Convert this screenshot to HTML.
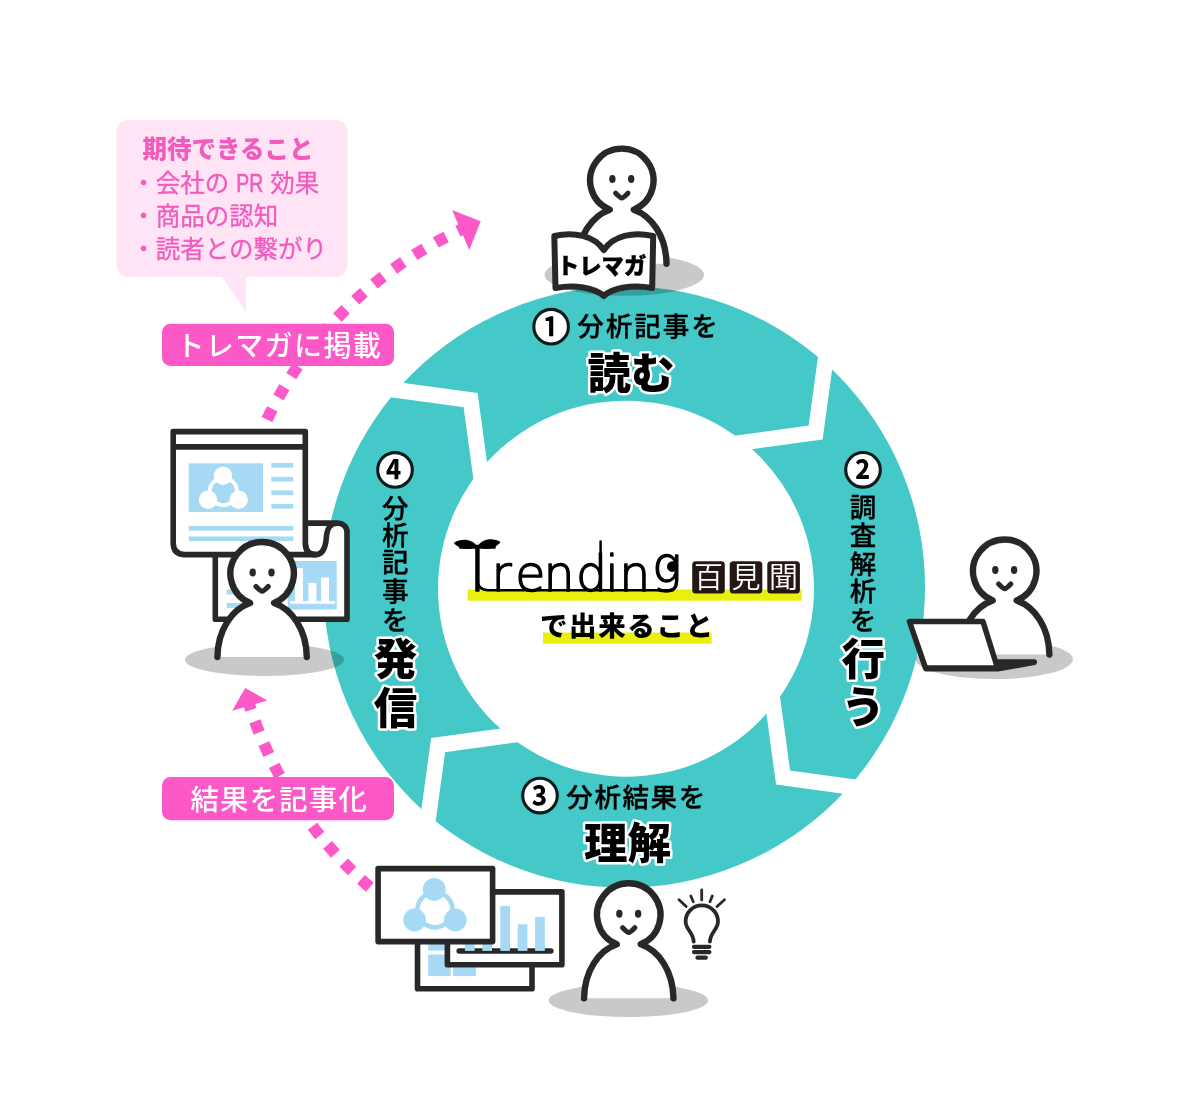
<!DOCTYPE html>
<html lang="ja">
<head>
<meta charset="utf-8">
<title>Trending 百見聞で出来ること</title>
<style>
html,body{margin:0;padding:0;background:#fff;}
body{width:1200px;height:1109px;overflow:hidden;}
svg{display:block;}
text{font-family:"Liberation Sans","Noto Sans CJK JP",sans-serif;}
.reg{font-weight:500;fill:#000;stroke:#000;stroke-width:0.35px;}
.hv{font-weight:900;fill:#000;stroke:#fff;stroke-width:5px;stroke-linejoin:round;paint-order:stroke fill;}
.num{font-weight:700;fill:#000;}
.ill{fill:#fff;stroke:#282828;stroke-linecap:round;}
.ln{fill:none;stroke:#282828;stroke-linecap:round;stroke-linejoin:round;}
.sh{fill:#C9C9C9;mix-blend-mode:multiply;}
</style>
</head>
<body>
<svg width="1200" height="1109" viewBox="0 0 1200 1109">

<rect width="1200" height="1109" fill="#fff"/>

<!-- ring -->
<circle cx="624.3" cy="587.0" r="300.7" fill="#45C8C8"/>
<circle cx="626.0" cy="588.7" r="188.0" fill="#fff"/>
<polyline points="371.5,386.6 470.6,400.1 484.1,499.2" fill="none" stroke="#fff" stroke-width="15.8" stroke-linejoin="miter" stroke-miterlimit="10"/>
<polyline points="829.1,333.5 815.6,432.6 716.5,446.1" fill="none" stroke="#fff" stroke-width="15.8" stroke-linejoin="miter" stroke-miterlimit="10"/>
<polyline points="882.2,791.1 783.1,777.6 769.6,678.5" fill="none" stroke="#fff" stroke-width="15.8" stroke-linejoin="miter" stroke-miterlimit="10"/>
<polyline points="424.6,844.2 438.1,745.1 537.2,731.6" fill="none" stroke="#fff" stroke-width="15.8" stroke-linejoin="miter" stroke-miterlimit="10"/>
<!-- shadows -->
<ellipse class="sh" cx="624.3" cy="274.8" rx="79.7" ry="21"/>
<ellipse class="sh" cx="994.4" cy="659.3" rx="78.5" ry="19.8"/>
<ellipse class="sh" cx="628.4" cy="1000.4" rx="79.7" ry="16.6"/>
<ellipse class="sh" cx="264.5" cy="659.7" rx="79.6" ry="16.2"/>
<!-- bubble -->
<path d="M128.5,120 H335.5 A12,12 0 0 1 347.5,132 V265 A12,12 0 0 1 335.5,277 H246 V312 L222,277 H128.5 A12,12 0 0 1 116.5,265 V132 A12,12 0 0 1 128.5,120 Z" fill="#FFE4F5"/>
<text x="142.5" y="158" font-size="24.5" font-weight="900" fill="#F25ABE">期待できること</text>
<text y="191.8" font-size="24.5" font-weight="400" fill="#F25ABE" stroke="#F25ABE" stroke-width="0.3"><tspan x="131.2">・会社の</tspan> <tspan x="236.3" font-size="25.8" stroke-width="0.6" textLength="27" lengthAdjust="spacingAndGlyphs">PR</tspan> <tspan x="270.3">効果</tspan></text>
<text x="131.2" y="225" font-size="24.5" font-weight="400" fill="#F25ABE" stroke="#F25ABE" stroke-width="0.3">・商品の認知</text>
<text x="131.2" y="258" font-size="24.5" font-weight="400" fill="#F25ABE" stroke="#F25ABE" stroke-width="0.3">・読者との繋がり</text>
<!-- arrows -->
<path d="M264.3,425.4 C304.1,337.8 375.9,268.2 463.1,228.8" fill="none" stroke="#FC58C8" stroke-width="11.8" stroke-dasharray="11.8 13.05" stroke-dashoffset="18.33"/>
<polygon points="452,210 480.7,221.3 469.3,250" fill="#FC58C8"/>
<path d="M374.5,891.2 C316.0,842.6 271.7,776.1 249.1,704.3" fill="none" stroke="#FC58C8" stroke-width="11.8" stroke-dasharray="11.8 12.21" stroke-dashoffset="17.9"/>
<polygon points="245.1,688 232.3,710.7 267.3,700.4" fill="#FC58C8"/>
<!-- labels -->
<rect x="162" y="323.7" width="232" height="42.3" rx="8.5" fill="#FC58C8"/>
<text x="279.3" y="355.5" font-size="28" font-weight="500" fill="#fff" text-anchor="middle" letter-spacing="1.4">トレマガに掲載</text>
<rect x="162" y="776.9" width="232" height="43.3" rx="8.5" fill="#FC58C8"/>
<text x="279.3" y="809.8" font-size="28.3" font-weight="500" fill="#fff" text-anchor="middle" letter-spacing="1.3">結果を記事化</text>
<!-- left pages -->
<path class="ill" stroke-linejoin="round" stroke-width="5.6" d="M215.3,552 V619.2 H347 V532 A8.7,8.7 0 0 0 338.3,523.3 H305.3"/>
<rect x="287.7" y="561" width="49" height="48.5" fill="#A5D9F4"/>
<rect x="226.7" y="589.5" width="40" height="5" fill="#A5D9F4"/>
<rect x="226.7" y="603" width="40" height="5" fill="#A5D9F4"/>
<g fill="#fff"><rect x="295" y="568" width="8" height="33"/><rect x="308.5" y="583" width="8" height="18"/><rect x="321" y="577.5" width="8" height="24"/><rect x="290" y="601" width="45" height="2.8"/></g>
<path class="ill" stroke-linejoin="round" stroke-width="5.6" d="M305.3,523.3 V543 Q305.3,554.6 315.5,554.6 C322.5,554.6 325.5,548 326.3,538 C327,528 330,523.3 337.5,523.3 Z"/>
<path class="ill" stroke-linejoin="round" stroke-width="5.6" d="M173.2,431.6 H305.3 V543 Q305.3,554.6 315.5,554.6 H185 Q173.2,554.6 173.2,542.5 Z"/>
<path fill="none" stroke="#282828" stroke-width="5.6" d="M174,446.9 H304.5"/>
<rect x="188.7" y="463.3" width="74.3" height="48.7" fill="#A5D9F4"/>
<g fill="#fff"><circle cx="223" cy="475.8" r="9.2"/><circle cx="208" cy="499.7" r="9.2"/><circle cx="238.7" cy="499.7" r="9.2"/><circle cx="223.3" cy="491.5" r="13.6" fill="none" stroke="#fff" stroke-width="3.8"/></g>
<rect x="271.3" y="462.95" width="22" height="4.7" fill="#A5D9F4"/>
<rect x="271.3" y="476.85" width="22" height="4.7" fill="#A5D9F4"/>
<rect x="271.3" y="490.45" width="22" height="4.7" fill="#A5D9F4"/>
<rect x="271.3" y="503.95" width="22" height="4.7" fill="#A5D9F4"/>
<rect x="188.7" y="525.95" width="104.6" height="4.7" fill="#A5D9F4"/>
<rect x="188.7" y="536.45" width="104.6" height="4.7" fill="#A5D9F4"/>
<!-- bottom monitors -->
<rect class="ill" stroke-linejoin="round" stroke-width="5.6" x="417.5" y="930" width="114.5" height="58.7"/>
<rect x="428.2" y="944" width="22.5" height="6.5" fill="#A5D9F4"/><rect x="428.2" y="954.5" width="22.5" height="21.6" fill="#A5D9F4"/><rect x="453.1" y="967.3" width="22.8" height="8.8" fill="#A5D9F4"/>
<rect class="ill" stroke-linejoin="round" stroke-width="5.6" x="447.4" y="891.9" width="114.5" height="72.9"/>
<path class="ln" stroke-width="5.6" d="M459.2,951 H550.8"/>
<rect x="464.9" y="920" width="9.7" height="30.9" fill="#A5D9F4"/>
<rect x="482.3" y="930" width="9.7" height="20.9" fill="#A5D9F4"/>
<rect x="500.3" y="905.9" width="9.7" height="45.0" fill="#A5D9F4"/>
<rect x="517.7" y="924.3" width="9.7" height="26.6" fill="#A5D9F4"/>
<rect x="535.1" y="916.9" width="9.7" height="34.0" fill="#A5D9F4"/>
<rect class="ill" stroke-linejoin="round" stroke-width="5.6" x="378.1" y="868.6" width="114.5" height="73"/>
<g fill="#A5D9F4"><circle cx="435" cy="909.8" r="17.6" fill="none" stroke="#A5D9F4" stroke-width="4.6"/><circle cx="434.3" cy="889.4" r="11.4"/><circle cx="414.6" cy="920" r="11.4"/><circle cx="455.3" cy="920" r="11.4"/></g>
<!-- persons -->
<g transform="translate(621.8 180.4)">
<path class="ill" stroke-linejoin="round" stroke-width="6.4" d="M-44.7,83.3 C-44.3,56 -30,35.5 -12,29.3 A31.7,31.7 0 1 1 12,29.3 C30,35.5 44.3,56 44.7,83.3"/>
<ellipse cx="-9.4" cy="-1.3" rx="3.2" ry="4" fill="#282828"/>
<ellipse cx="9.4" cy="-1.3" rx="3.2" ry="4" fill="#282828"/>
<path class="ln" stroke-width="5.2" d="M-6.1,12.8 C-3,16 -1.2,17.5 0,17.5 C1.2,17.5 3,16 6.1,12.8"/>
</g>
<g transform="translate(1004.7 571.2)">
<path class="ill" stroke-linejoin="round" stroke-width="6.4" d="M-44.7,83.3 C-44.3,56 -30,35.5 -12,29.3 A31.7,31.7 0 1 1 12,29.3 C30,35.5 44.3,56 44.7,83.3"/>
<ellipse cx="-9.4" cy="-1.3" rx="3.2" ry="4" fill="#282828"/>
<ellipse cx="9.4" cy="-1.3" rx="3.2" ry="4" fill="#282828"/>
<path class="ln" stroke-width="5.2" d="M-6.1,12.8 C-3,16 -1.2,17.5 0,17.5 C1.2,17.5 3,16 6.1,12.8"/>
</g>
<g transform="translate(628.75 915)">
<path class="ill" stroke-linejoin="round" stroke-width="6.4" d="M-44.7,83.3 C-44.3,56 -30,35.5 -12,29.3 A31.7,31.7 0 1 1 12,29.3 C30,35.5 44.3,56 44.7,83.3"/>
<ellipse cx="-9.4" cy="-1.3" rx="3.2" ry="4" fill="#282828"/>
<ellipse cx="9.4" cy="-1.3" rx="3.2" ry="4" fill="#282828"/>
<path class="ln" stroke-width="5.2" d="M-6.1,12.8 C-3,16 -1.2,17.5 0,17.5 C1.2,17.5 3,16 6.1,12.8"/>
</g>
<g transform="translate(262.1 573.7)">
<path class="ill" stroke-linejoin="round" stroke-width="6.4" d="M-44.7,83.3 C-44.3,56 -30,35.5 -12,29.3 A31.7,31.7 0 1 1 12,29.3 C30,35.5 44.3,56 44.7,83.3"/>
<ellipse cx="-9.4" cy="-1.3" rx="3.2" ry="4" fill="#282828"/>
<ellipse cx="9.4" cy="-1.3" rx="3.2" ry="4" fill="#282828"/>
<path class="ln" stroke-width="5.2" d="M-6.1,12.8 C-3,16 -1.2,17.5 0,17.5 C1.2,17.5 3,16 6.1,12.8"/>
</g>
<!-- book -->
<path class="ill" stroke-linejoin="round" stroke-width="6" d="M554.3,236 C574,231.5 594,235.5 603.8,250 C613.6,235.5 633,231.5 653.2,236 L652.2,288 C632,284.5 613,287.5 603.8,296 C594,287.5 575,284.5 555.5,288 Z"/>
<text x="601.6" y="274.3" font-size="22.3" font-weight="900" fill="#000" stroke="#000" stroke-width="0.4" text-anchor="middle">トレマガ</text>
<!-- laptop -->
<path d="M926,669 H998 L1034.5,662.6 V661.8 H994 Z" fill="#282828" stroke="#282828" stroke-width="5" stroke-linejoin="round"/>
<path class="ill" stroke-width="5.5" stroke-linejoin="round" d="M909.5,621.6 H983 L997.5,668 H925.5 Z"/>
<!-- bulb -->
<path class="ln" stroke-width="3.8" d="M693.7,941.6 C693.2,932 685.6,929.5 685.6,921.5 A16.2,16.2 0 0 1 718,921.5 C718,929.5 710.4,932 709.9,941.6"/>
<path class="ln" stroke-width="4.2" d="M694,946.8 H709.4 M694,952.1 H709.4 M697.5,957.7 H705.8"/>
<path class="ln" stroke-width="2.8" d="M701.7,890 V900 M690.8,896 L693.3,901.7 M712.3,896 L710,901.7 M679,899.7 L686.2,906.5 M724.5,899.7 L717,906.5"/>
<!-- ring text -->
<defs><clipPath id="numclip"><ellipse cx="-0.8" cy="0" rx="11.8" ry="13.4"/></clipPath></defs>
<circle cx="551.1" cy="326.7" r="17.3" fill="#fff" stroke="#0d1a1a" stroke-width="3.1"/>
<g transform="translate(551.1 326.7)" clip-path="url(#numclip)"><text class="num" transform="scale(0.87 1)" x="-0.9" y="14.2" font-size="37.2" text-anchor="middle">①</text></g>
<text class="reg" x="577.3" y="336.3" font-size="26.5" letter-spacing="2">分析記事を</text>
<text class="hv" x="631" y="388.5" font-size="43.5" text-anchor="middle">読む</text>
<circle cx="863.0" cy="469.8" r="17.3" fill="#fff" stroke="#0d1a1a" stroke-width="3.1"/>
<g transform="translate(863.0 469.8)" clip-path="url(#numclip)"><text class="num" transform="scale(0.87 1)" x="-0.9" y="14.2" font-size="37.2" text-anchor="middle">②</text></g>
<text class="reg" x="863.0 863.0 863.0 863.0 863.0" y="516.8 545.1 573.5 601.4 630.4" font-size="26.5" text-anchor="middle">調査解析を</text>
<text class="hv" x="863.2 863.2" y="675.2 723.1" font-size="43.5" text-anchor="middle">行う</text>
<circle cx="540.0" cy="795.6" r="17.3" fill="#fff" stroke="#0d1a1a" stroke-width="3.1"/>
<g transform="translate(540.0 795.6)" clip-path="url(#numclip)"><text class="num" transform="scale(0.87 1)" x="-0.9" y="14.2" font-size="37.2" text-anchor="middle">③</text></g>
<text class="reg" x="566.3" y="806.8" font-size="26.5" letter-spacing="1.6">分析結果を</text>
<text class="hv" x="627.5" y="858.5" font-size="43.5" text-anchor="middle">理解</text>
<circle cx="395.0" cy="469.9" r="17.3" fill="#fff" stroke="#0d1a1a" stroke-width="3.1"/>
<g transform="translate(395.0 469.9)" clip-path="url(#numclip)"><text class="num" transform="scale(0.87 1)" x="-0.9" y="14.2" font-size="37.2" text-anchor="middle">④</text></g>
<text class="reg" x="395.3 395.3 395.3 395.3 395.3" y="517.5 544.7 572.1 600.7 630.3" font-size="26.5" text-anchor="middle">分析記事を</text>
<text class="hv" x="395.4 395.4" y="674.7 724.2" font-size="43.5" text-anchor="middle">発信</text>
<!-- logo -->
<rect x="467.7" y="589.5" width="334" height="11.2" fill="#EAEF0C"/>
<rect x="543" y="632.5" width="168.7" height="11.2" fill="#EAEF0C"/>
<path d="M453.8,543 C461,538 472,538.5 477.4,546.6 C470,550.6 460,550 453.8,543 Z M477.4,546.4 C482.5,538 493.5,537.5 500.6,542 C494.5,549.5 485,550.6 477.4,546.4 Z" fill="#000"/>
<path d="M477.2,578 Q477.2,590.2 488,590.2 H673 M600.6,541.5 V556" fill="none" stroke="#000" stroke-width="2.5" stroke-linecap="round"/>
<text y="591" font-size="49" font-weight="200" fill="#000" stroke="#000" stroke-width="1.4" stroke-linejoin="round" style="font-family:'DejaVu Sans','Liberation Sans',sans-serif"><tspan x="458.6" font-size="62">T</tspan><tspan x="491.4 515.2 543.5 576 605.2 619.3">rendin</tspan><tspan x="652.2" dy="-9">g</tspan></text>
<circle cx="672.3" cy="566.6" r="5.3" fill="#000"/>
<rect x="692.2" y="561.2" width="32.6" height="32.4" rx="3.5" fill="#231815"/>
<rect x="729.7" y="561.2" width="32.6" height="32.4" rx="3.5" fill="#231815"/>
<rect x="767.3" y="561.2" width="32.6" height="32.4" rx="3.5" fill="#231815"/>
<text x="694 731.5 769.1" y="587.8" font-size="29" font-weight="350" fill="#fff">百見聞</text>
<text x="627.3" y="635.8" font-size="27.5" font-weight="900" fill="#000" text-anchor="middle" letter-spacing="1.6">で出来ること</text>
</svg>
</body>
</html>
